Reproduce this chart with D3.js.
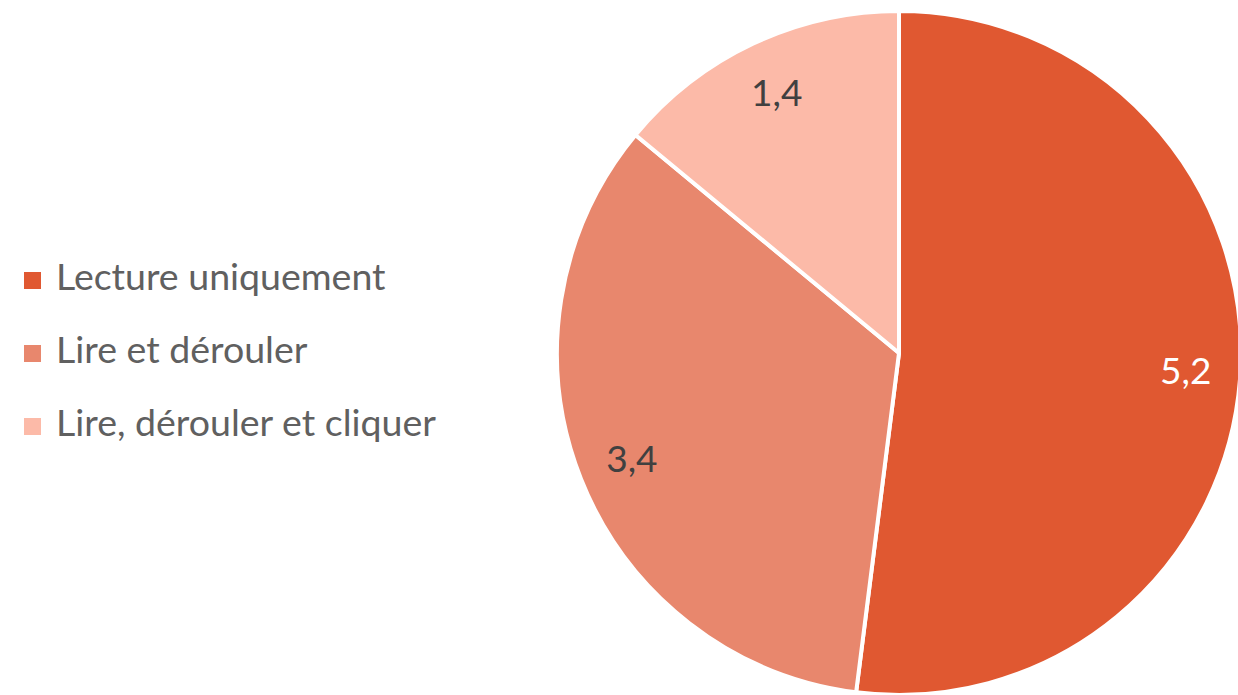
<!DOCTYPE html>
<html>
<head>
<meta charset="utf-8">
<script src="https://cdn.jsdelivr.net/npm/d3@7"></script>
<style>
  html, body { margin: 0; padding: 0; background: #fff; }
  svg { display: block; font-family: Lato, "Noto Sans", sans-serif; }
</style>
</head>
<body>
<svg width="1238" height="695"></svg>
<script>
var categories = ["Lecture uniquement", "Lire et dérouler", "Lire, dérouler et cliquer"];
var values = [5.2, 3.4, 1.4];
var valueLabels = ["5,2", "3,4", "1,4"];
var colors = ["#E05831", "#E8876D", "#FCBAA8"];
var labelColors = ["#ffffff", "#404040", "#404040"];

var svg = d3.select("svg");

var cx = 899, cy = 353, radius = 342;

var data = categories.map(function(c, i) {
    return { name: c, value: values[i], label: valueLabels[i], color: colors[i], labelColor: labelColors[i] };
});

var pie = d3.pie()
    .sort(null)
    .value(function(d) { return d.value; });

var arc = d3.arc()
    .innerRadius(0)
    .outerRadius(radius);

var labelArc = d3.arc()
    .innerRadius(radius * 0.84)
    .outerRadius(radius * 0.84);

var g = svg.append("g")
    .attr("transform", "translate(" + cx + "," + cy + ")");

var arcs = pie(data);

g.selectAll("path")
    .data(arcs)
    .enter().append("path")
    .attr("d", arc)
    .attr("fill", function(d) { return d.data.color; })
    .attr("stroke", "#fff")
    .attr("stroke-width", 4)
    .attr("stroke-linejoin", "round");

g.selectAll("text")
    .data(arcs)
    .enter().append("text")
    .attr("transform", function(d) { return "translate(" + labelArc.centroid(d) + ")"; })
    .attr("text-anchor", "middle")
    .attr("dy", "0.36em")
    .attr("font-size", 37)
    .attr("fill", function(d) { return d.data.labelColor; })
    .text(function(d) { return d.data.label; });

// legend
var legend = svg.append("g")
    .attr("transform", "translate(24,272)");

var item = legend.selectAll("g")
    .data(data)
    .enter().append("g")
    .attr("transform", function(d, i) { return "translate(0," + (i * 73) + ")"; });

item.append("rect")
    .attr("width", 17)
    .attr("height", 17)
    .attr("fill", function(d) { return d.color; });

item.append("text")
    .attr("x", 32)
    .attr("y", 18)
    .attr("font-size", 37.5)
    .attr("fill", "#606060")
    .text(function(d) { return d.name; });
</script>
</body>
</html>
